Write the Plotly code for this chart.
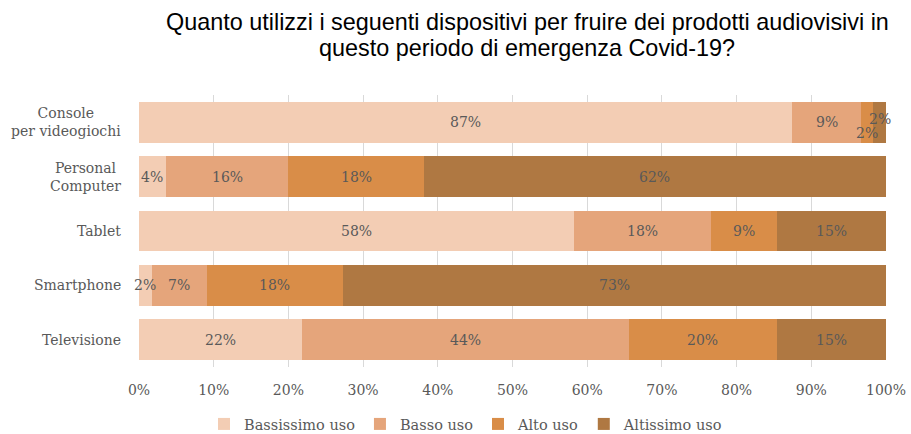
import plotly.graph_objects as go

categories = ["Console<br>per videogiochi", "Personal<br>Computer", "Tablet", "Smartphone", "Televisione"]
series_names = ["Bassissimo uso", "Basso uso", "Alto uso", "Altissimo uso"]
bassissimo = [87.4, 3.6, 58.2, 1.7, 21.8]
basso = [9.3, 16.4, 18.4, 7.4, 43.8]
alto = [1.6, 18.1, 8.8, 18.2, 19.8]
altissimo = [1.7, 61.9, 14.6, 72.7, 14.6]
tick_vals = [0, 10, 20, 30, 40, 50, 60, 70, 80, 90, 100]
tick_text = ["0%", "10%", "20%", "30%", "40%", "50%", "60%", "70%", "80%", "90%", "100%"]
title_lines = ["Quanto utilizzi i seguenti dispositivi per fruire dei prodotti audiovisivi in",
               "questo periodo di emergenza Covid-19?"]

colors = ["#F3CDB4", "#E5A57B", "#D98D48", "#AF7842"]
series = [bassissimo, basso, alto, altissimo]
serif = "DejaVu Serif"
label_color = "#595959"
PLOT_W = 747
PLOT_H = 272

fig = go.Figure()
for name, vals, col in zip(series_names, series, colors):
    fig.add_trace(go.Bar(
        y=categories, x=vals, name=name, orientation="h",
        marker=dict(color=col, line=dict(width=0)),
        hoverinfo="x+name",
    ))

annotations = []
# data labels (centered in each segment)
for ci, cat in enumerate(categories):
    cum = 0
    for si, vals in enumerate(series):
        v = vals[ci]
        xc = cum + v / 2
        cum += v
        yshift = 0
        if ci == 0 and si == 2:
            yshift = -11
        if ci == 0 and si == 3:
            yshift = 3
        annotations.append(dict(
            x=xc, y=cat, xref="x", yref="y", text=f"{round(v):d}%",
            showarrow=False, yshift=yshift,
            font=dict(family=serif, size=14, color=label_color),
        ))

# category labels, centered multi-line like the original
for cat in categories:
    annotations.append(dict(
        x=-16 / PLOT_W, y=cat, xref="paper", yref="y", text=cat,
        showarrow=False, xanchor="right", align="center",
        font=dict(family=serif, size=14, color=label_color),
    ))

# title as two centered lines
for i, (line, ypx) in enumerate(zip(title_lines, [22, 48])):
    annotations.append(dict(
        x=(527 - 139) / PLOT_W, y=1 + (95 - ypx) / PLOT_H,
        xref="paper", yref="paper", text=line, showarrow=False,
        xanchor="center", yanchor="middle",
        font=dict(family="Liberation Sans, Arial", size=23.4, color="black"),
    ))

fig.update_layout(
    barmode="stack",
    bargap=0.25,
    width=911, height=434,
    margin=dict(l=139, r=25, t=95, b=67, autoexpand=False),
    paper_bgcolor="white", plot_bgcolor="white",
    xaxis=dict(
        range=[0, 100], tickvals=tick_vals, ticktext=tick_text,
        showgrid=True, gridcolor="#D9D9D9", gridwidth=1,
        zeroline=False, showline=False, ticks="",
        ticklabelstandoff=13,
        tickfont=dict(family=serif, size=14, color=label_color),
        fixedrange=True, automargin=False,
    ),
    yaxis=dict(
        autorange="reversed", showticklabels=False, showgrid=False,
        zeroline=False, showline=False, ticks="", automargin=False,
    ),
    legend=dict(
        orientation="h", x=(466 - 139) / PLOT_W, xanchor="center", xref="paper",
        y=-(424 - 367) / PLOT_H, yanchor="middle", yref="paper",
        font=dict(family=serif, size=14.5, color=label_color),
        traceorder="normal", itemwidth=30,
        bgcolor="rgba(0,0,0,0)",
    ),
    annotations=annotations,
    showlegend=True,
)

fig.write_html("out.html", config={"displayModeBar": False},
               post_script="document.body.style.margin='0';document.body.style.overflow='hidden';")
